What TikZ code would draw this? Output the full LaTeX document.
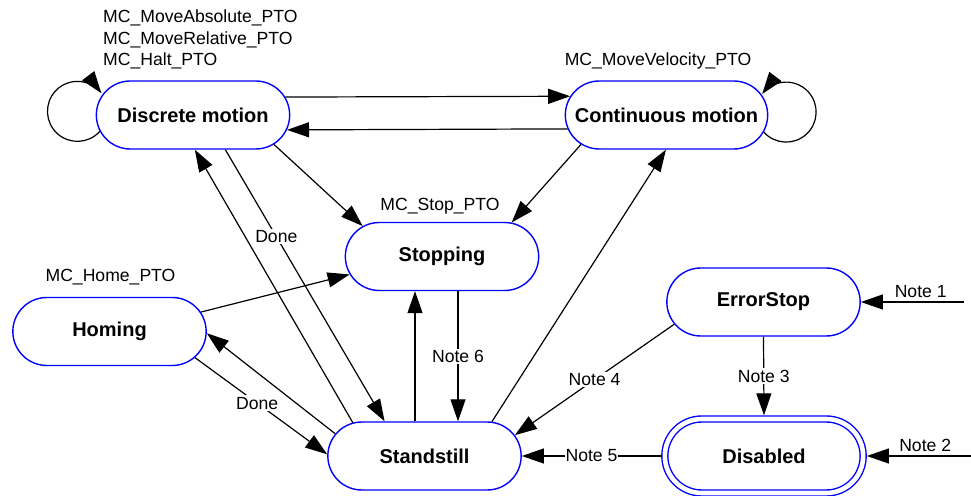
\documentclass[tikz,border=0pt]{standalone}
\usepackage{fontspec}
\setmainfont{Liberation Sans}
\usetikzlibrary{arrows.meta,shapes.misc}
\begin{document}
\begin{tikzpicture}[x=1pt,y=1pt,font=\fontsize{17.6}{21.3}\selectfont,
  state/.style={rounded rectangle,draw=blue,line width=1.4pt,fill=white,minimum width=200pt,minimum height=68pt,font=\fontsize{20}{24}\selectfont\bfseries},
  move/.style={line width=1.2pt,-{Triangle[length=22pt,width=15pt]}},
  lbl/.style={fill=white,inner sep=1.5pt}]
\useasboundingbox (0,0) rectangle (971,495);
\node[state] (disc) at (193,380) {Discrete motion};
\node[state,minimum width=209pt] (cont) at (666.5,380) {Continuous motion};
\node[state] (stop) at (442,238.5) {Stopping};
\node[state] (home) at (109.5,163.5) {Homing};
\node[state] (stand) at (424.5,39) {Standstill};
\node[state] (err) at (763.5,193) {ErrorStop};
\node[state,double,double distance=4.6pt,minimum width=205pt,minimum height=74pt,outer sep=3.7pt] (dis) at (764,39) {Disabled};
\node[align=left,anchor=north west,inner sep=0] (absl) at (103,485) {MC\_MoveAbsolute\_PTO\\MC\_MoveRelative\_PTO\\MC\_Halt\_PTO};
\node[anchor=base] (velo) at (658,429) {MC\_MoveVelocity\_PTO};
\node[anchor=base] (stpl) at (440,284.3) {MC\_Stop\_PTO};
\node[anchor=base] (homl) at (110.5,213) {MC\_Home\_PTO};
\coordinate (n1) at (964,193);
\coordinate (n2) at (971,39);
\foreach \a/\b in {disc.11/cont.169,cont.188/disc.-9,disc.-20/stop.159,stand.155/disc.-87,cont.199/stop.26,stand.27/cont.-91,home.12/stop.191,stand.166/home.-1}{\draw[move] (\a) -- (\b);}
\draw[move] (disc.190) arc[start angle=-42,end angle=-323,radius=30];
\draw[move] (cont.-10) arc[start angle=-138,end angle=143,radius=30];
\draw[move] (disc.-47) -- node[lbl,pos=0.32] {Done} (stand.139);
\draw[move] (home.-17) -- node[lbl,pos=0.47] {Done} (stand.179);
\draw[move] ([xshift=-9.5pt]stand.north) -- ([xshift=-27pt]stop.south);
\draw[move] ([xshift=16pt]stop.south) -- node[lbl] {Note 6} ([xshift=33.5pt]stand.north);
\draw[move] (err.194) -- node[lbl] {Note 4} (stand.13);
\draw[move] (err.south) -- node[lbl] {Note 3} (dis.north);
\draw[move] (dis.west) -- node[lbl,inner sep=0.5pt] {Note 5} (stand.east);
\draw[move] (n1) -- node[above,pos=0.42] {Note 1} (err.east);
\draw[move] (n2) -- node[above,pos=0.44] {Note 2} (dis.east);
\end{tikzpicture}
\end{document}
